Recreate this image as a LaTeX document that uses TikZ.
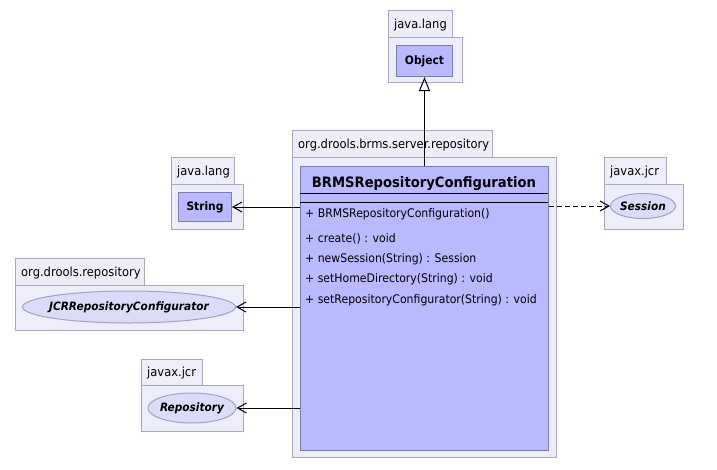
\documentclass[tikz,border=0pt]{standalone}
\usepackage{fontspec}
\setmainfont{DejaVu Sans}[FakeStretch=0.92,BoldFont={DejaVu Sans Bold},ItalicFont={DejaVu Sans Oblique},BoldItalicFont={DejaVu Sans Bold Oblique}]
\usetikzlibrary{arrows.meta,shapes.geometric}
\definecolor{pkgfill}{RGB}{238,238,250}
\definecolor{pkgdraw}{RGB}{168,168,196}
\definecolor{clsfill}{RGB}{185,185,255}
\definecolor{clsdraw}{RGB}{124,124,180}
\definecolor{ifill}{RGB}{220,220,248}
\definecolor{idraw}{RGB}{160,160,200}
\tikzset{
  pkgbox/.style={draw=pkgdraw,fill=pkgfill,line width=1pt,inner sep=0pt,anchor=north west},
  clsbox/.style={draw=clsdraw,fill=clsfill,line width=1pt,inner sep=0pt,anchor=north west},
  ifbox/.style={ellipse,draw=idraw,fill=ifill,line width=1pt,inner sep=0pt},
  pkglabel/.style={inner sep=0pt,anchor=base west,font=\fontsize{12.5}{14}\selectfont},
  oplabel/.style={inner sep=0pt,anchor=base west,font=\fontsize{11.85}{14}\selectfont},
  clslabel/.style={inner sep=0pt,font=\fontsize{11.6}{14}\selectfont\bfseries},
  iflabel/.style={inner sep=0pt,font=\fontsize{11.5}{14}\selectfont\bfseries\itshape},
  assoc/.style={line width=1pt,-{Straight Barb[length=9pt,width=10pt,line width=1pt]}},
  depend/.style={line width=1pt,dash pattern=on 5pt off 3pt,-{Straight Barb[length=9pt,width=10pt,line width=1pt]}},
  gener/.style={line width=1pt,-{Triangle[open,length=14pt,width=11pt,line width=1pt]}}
}
\begin{document}
\begin{tikzpicture}[x=1pt,y=-1pt]
\useasboundingbox (0,0) rectangle (717,469);
\fill[white] (0,0) rectangle (717,469);

% java.lang / Object
\node[pkgbox,minimum width=64pt,minimum height=27pt] (objpkgtab) at (388,10) {};
\node[pkgbox,minimum width=74pt,minimum height=45pt] (objpkg) at (388,37) {};
\node[pkglabel] (objpkglabel) at (394,28) {java.lang};
\node[clsbox,minimum width=56pt,minimum height=31pt] (object) at (396,45) {};
\node[clslabel] (objectlabel) at (object.center) {Object};

% main package
\node[pkgbox,minimum width=200pt,minimum height=27pt] (mainpkgtab) at (292,130) {};
\node[pkgbox,minimum width=264pt,minimum height=300pt] (mainpkg) at (292,157) {};
\node[pkglabel] (mainpkglabel) at (298,148) {org.drools.brms.server.repository};
\node[clsbox,minimum width=248pt,minimum height=284pt] (brms) at (300,166) {};
\node[inner sep=0pt,anchor=base,font=\fontsize{14.3}{17}\selectfont\bfseries] (brmsname) at (424,187) {BRMSRepositoryConfiguration};
\coordinate (sep1l) at (300,193); \coordinate (sep1r) at (548,193);
\coordinate (sep2l) at (300,202); \coordinate (sep2r) at (548,202);
\draw[line width=1pt] (sep1l) -- (sep1r);
\draw[line width=1pt] (sep2l) -- (sep2r);
\node[oplabel] (op1) at (305,217) {+ BRMSRepositoryConfiguration()};
\node[oplabel] (op2) at (305,242) {+ create() : void};
\node[oplabel] (op3) at (305,262) {+ newSession(String) : Session};
\node[oplabel] (op4) at (305,282) {+ setHomeDirectory(String) : void};
\node[oplabel] (op5) at (305,303) {+ setRepositoryConfigurator(String) : void};

% java.lang / String
\node[pkgbox,minimum width=63pt,minimum height=27pt] (strpkgtab) at (171,157) {};
\node[pkgbox,minimum width=72pt,minimum height=45pt] (strpkg) at (171,184) {};
\node[pkglabel] (strpkglabel) at (177,175) {java.lang};
\node[clsbox,minimum width=53pt,minimum height=29pt] (string) at (178,192) {};
\node[clslabel] (stringlabel) at (string.center) {String};

% org.drools.repository / JCRRepositoryConfigurator
\node[pkgbox,minimum width=129pt,minimum height=27pt] (jcrpkgtab) at (15,258) {};
\node[pkgbox,minimum width=228pt,minimum height=45pt] (jcrpkg) at (15,285) {};
\node[pkglabel] (jcrpkglabel) at (21,276) {org.drools.repository};
\node[ifbox,minimum width=213pt,minimum height=32pt] (jcr) at (129,307) {};
\node[iflabel] (jcrlabel) at (jcr.center) {JCRRepositoryConfigurator};

% javax.jcr / Repository
\node[pkgbox,minimum width=61pt,minimum height=26pt] (repopkgtab) at (141,359) {};
\node[pkgbox,minimum width=102pt,minimum height=46pt] (repopkg) at (141,385) {};
\node[pkglabel] (repopkglabel) at (147,376) {javax.jcr};
\node[ifbox,minimum width=88pt,minimum height=30pt] (repo) at (192,408) {};
\node[iflabel] (repolabel) at (repo.center) {Repository};

% javax.jcr / Session
\node[pkgbox,minimum width=62pt,minimum height=27pt] (sespkgtab) at (604,157) {};
\node[pkgbox,minimum width=79pt,minimum height=45pt] (sespkg) at (604,184) {};
\node[pkglabel] (sespkglabel) at (610,175) {javax.jcr};
\node[ifbox,minimum width=65pt,minimum height=25pt] (session) at (643,206) {};
\node[iflabel] (sessionlabel) at (session.center) {Session};

% connectors
\draw[gener] (brms.north) -- (object.south);
\draw[assoc] (brms.west |- string.east) -- (string.east);
\draw[assoc] (brms.west |- jcr.east) -- (jcr.east);
\draw[assoc] (brms.west |- repo.east) -- (repo.east);
\draw[depend] (brms.east |- session.west) -- (session.west);
\end{tikzpicture}
\end{document}
